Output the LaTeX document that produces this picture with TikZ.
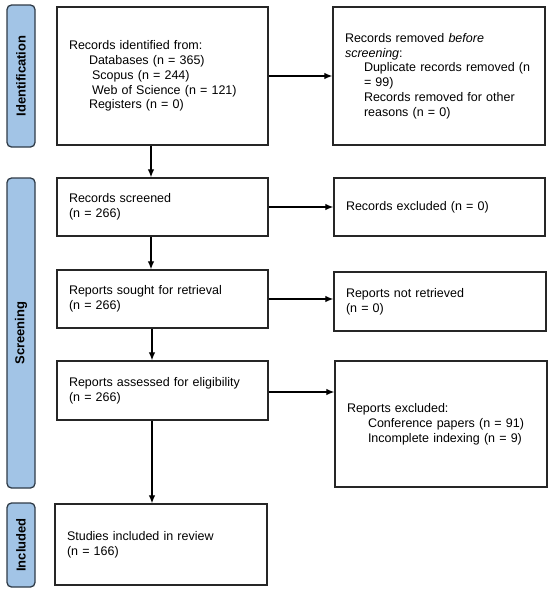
\documentclass[tikz,border=0pt]{standalone}
\usepackage{fontspec}
\setmainfont{Liberation Sans}
\usetikzlibrary{arrows.meta}
\definecolor{barfill}{HTML}{A2C4E6}
\definecolor{barline}{HTML}{2F3B47}
\definecolor{boxline}{HTML}{262626}
\tikzset{
  box/.style={draw=boxline, line width=1.4pt, rectangle, align=left, inner xsep=12pt, inner ysep=0pt,
    font=\fontsize{12.5}{14.8}\selectfont},
  bar/.style={draw=barline, fill=barfill, line width=1.3pt, rounded corners=4.5pt},
  barlabel/.style={font=\fontsize{13}{15}\selectfont\bfseries, rotate=90},
  arr/.style={line width=1.1pt, -{Latex[length=8pt,width=6.5pt]}}
}
\newcommand{\ind}{\hspace*{19pt}}
\begin{document}
\begin{tikzpicture}[x=1pt,y=-1pt]
\useasboundingbox (0,0) rectangle (550,595);
% phase bars
\draw[bar] (7,5) rectangle (35,147);
\node[barlabel] (lid) at (21,76) {Identification};
\draw[bar] (7,178) rectangle (35,488);
\node[barlabel] (lsc) at (21,333) {Screening};
\draw[bar] (7,503) rectangle (35,587);
\node[barlabel] (lin) at (21,545) {Included};
% boxes
\node[box, minimum width=211pt, minimum height=138pt, text width=187pt] (b1) at (162.5,76)
 {Records identified from:\\
  \hspace*{20pt}Databases (n = 365)\\
  \hspace*{23pt}Scopus (n = 244)\\
  \hspace*{23pt}Web of Science (n = 121)\\
  \hspace*{20pt}Registers (n = 0)};
\node[box, minimum width=212pt, minimum height=138pt, text width=188pt] (rem) at (439,76)
 {Records removed \textit{before}\\
  \textit{screening}:\\
  \ind Duplicate records removed (n\\
  \ind = 99)\\
  \ind Records removed for other\\
  \ind reasons (n = 0)};
\node[box, minimum width=211pt, minimum height=58pt, text width=187pt] (scr) at (162.5,207)
 {Records screened\\(n = 266)};
\node[box, minimum width=211pt, minimum height=58pt, text width=187pt] (exc) at (439.5,207)
 {Records excluded (n = 0)};
\node[box, minimum width=211pt, minimum height=58pt, text width=187pt] (sou) at (162.5,299)
 {Reports sought for retrieval\\(n = 266)};
\node[box, minimum width=212pt, minimum height=59pt, text width=188pt] (nre) at (440,301.5)
 {Reports not retrieved\\(n = 0)};
\node[box, minimum width=211pt, minimum height=59pt, text width=187pt] (ass) at (162.5,390.5)
 {Reports assessed for eligibility\\(n = 266)};
\node[box, minimum width=212pt, minimum height=126pt, text width=188pt] (rex) at (441,424)
 {Reports excluded:\\
  \hspace*{21pt}Conference papers (n = 91)\\
  \hspace*{21pt}Incomplete indexing (n = 9)};
\node[box, minimum width=212pt, minimum height=81pt, text width=188pt] (stu) at (161,544.5)
 {Studies included in review\\(n = 166)};
% connectors
\coordinate (ax) at (151,0);
\coordinate (bx) at (152,0);
\draw[arr] (b1.south -| ax) -- (scr.north -| ax);
\draw[arr] (scr.south -| ax) -- (sou.north -| ax);
\draw[arr] (sou.south -| bx) -- (ass.north -| bx);
\draw[arr] (ass.south -| bx) -- (stu.north -| bx);
\draw[arr] (b1.east) -- (b1.east -| rem.west);
\draw[arr] (scr.east) -- (scr.east -| exc.west);
\draw[arr] (sou.east) -- (sou.east -| nre.west);
\coordinate (ay) at (0,392);
\draw[arr] (ass.east |- ay) -- (rex.west |- ay);
\end{tikzpicture}
\end{document}
